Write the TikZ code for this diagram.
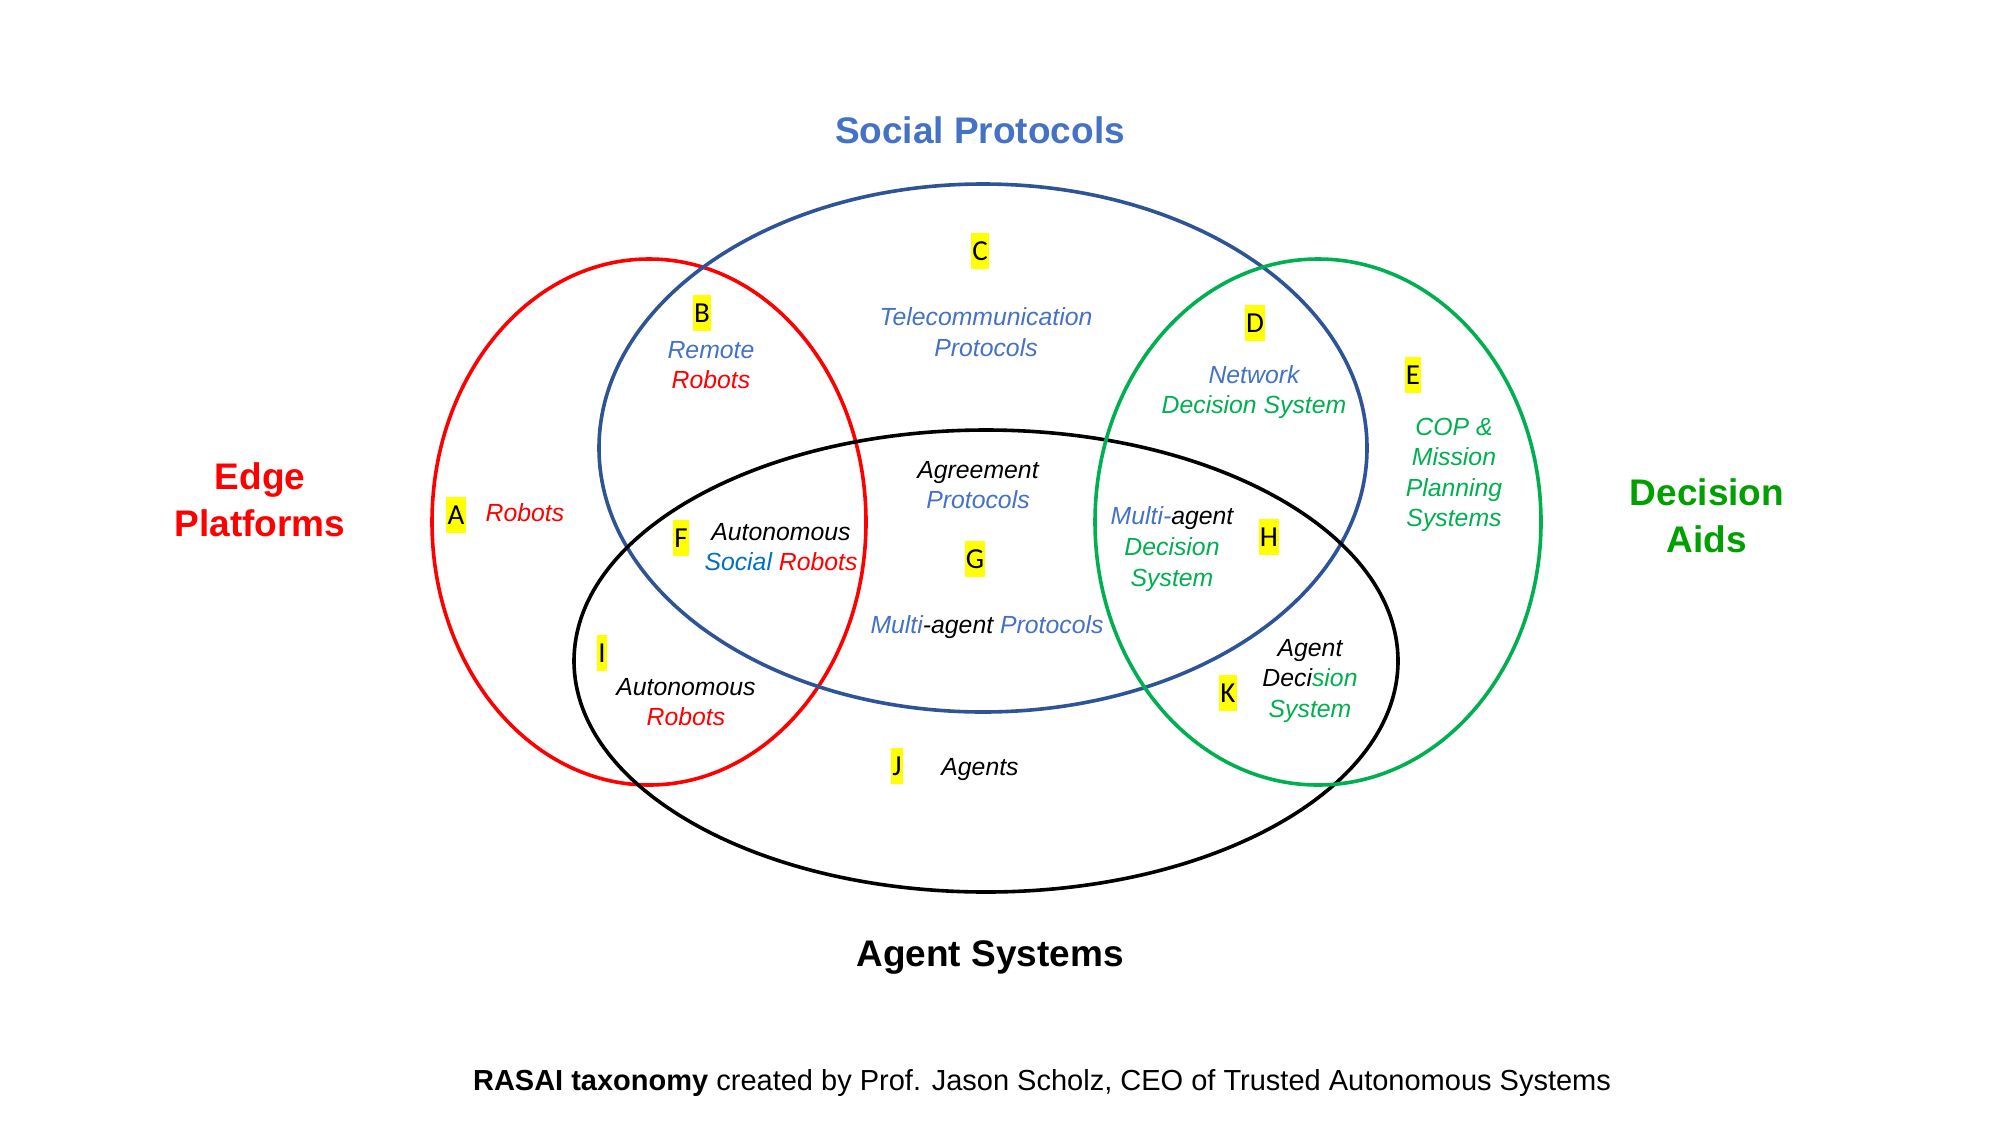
\documentclass[tikz,border=0pt]{standalone}
\usepackage{fontspec}
\setmainfont{Liberation Sans}
\newfontfamily\letterfont{Carlito}
\definecolor{cred}{RGB}{255,0,0}
\definecolor{cblueline}{RGB}{47,84,150}
\definecolor{cblue}{RGB}{68,114,196}
\definecolor{csocial}{RGB}{0,112,192}
\definecolor{cgreen}{RGB}{0,176,80}
\definecolor{cdgreen}{RGB}{0,160,0}
\definecolor{cyel}{RGB}{255,255,0}
\tikzset{
  ring/.style={line width=1.8pt},
  lbl/.style={font=\fontsize{12.4}{15.3}\selectfont\itshape, align=center, inner sep=0pt},
  title/.style={font=\fontsize{18.5}{23.6}\selectfont\bfseries, align=center, inner sep=0pt},
  tag/.style={fill=cyel, font=\fontsize{14.5}{17}\selectfont\letterfont, inner xsep=0.6pt, inner ysep=0pt, minimum height=18pt, text=black}
}
\begin{document}
\begin{tikzpicture}[x=0.5pt, y=-0.5pt]
\useasboundingbox (0,0) rectangle (2000,1125);
\fill[white] (0,0) rectangle (2000,1125);
% ellipses
\draw[ring, cred] (649,522) ellipse [x radius=217, y radius=263];
\draw[ring, cblueline] (983,448) ellipse [x radius=384, y radius=264];
\draw[ring, black] (986,661) ellipse [x radius=412, y radius=231];
\draw[ring, cgreen] (1318,522) ellipse [x radius=223, y radius=263];
% titles
\node[title, text=cblue] (tsp) at (980,130) {Social Protocols};
\node[title, text=cred] (tep) at (260,500) {Edge\\Platforms};
\node[title, text=cdgreen] (tda) at (1707,516) {Decision\\Aids};
\node[title, text=black] (tas) at (990,957) {Agent Systems};
\node[font=\fontsize{14.5}{17}\selectfont, inner sep=0pt] (foot) at (1042,1083) {\textbf{RASAI taxonomy} created by Prof. Jason Scholz, CEO of Trusted Autonomous Systems};
% tags
\node[tag] (A) at (456,515) {A};
\node[tag] (B) at (702,313) {B};
\node[tag] (C) at (980,251) {C};
\node[tag] (D) at (1255,323) {D};
\node[tag] (E) at (1413,375) {E};
\node[tag] (F) at (681,538) {F};
\node[tag] (G) at (975,559) {G};
\node[tag] (H) at (1269,537) {H};
\node[tag] (I) at (602,653) {I};
\node[tag] (J) at (897,766) {J};
\node[tag] (K) at (1228,693) {K};
% labels
\node[lbl, text=cred] (la) at (525,513) {Robots};
\node[lbl] (lb) at (711,365) {\textcolor{cblue}{Remote}\\\textcolor{cred}{Robots}};
\node[lbl, text=cblue] (lc) at (986,332) {Telecommunication\\Protocols};
\node[lbl] (ld) at (1254,392) {\textcolor{cblue}{Network}\\\textcolor{cgreen}{Decision System}};
\node[lbl, text=cgreen] (le) at (1454,475) {COP \&\\Mission\\Planning\\Systems};
\node[lbl] (lg1) at (978,485) {Agreement\\\textcolor{cblue}{Protocols}};
\node[lbl] (lf) at (781,547) {Autonomous\\\textcolor{csocial}{Social} \textcolor{cred}{Robots}};
\node[lbl] (lg2) at (987,627) {\textcolor{cblue}{Multi}-agent \textcolor{cblue}{Protocols}};
\node[lbl] (lh) at (1172,549) {\textcolor{cblue}{Multi-}agent\\\textcolor{cgreen}{Decision}\\\textcolor{cgreen}{System}};
\node[lbl] (li) at (686,702) {Autonomous\\\textcolor{cred}{Robots}};
\node[lbl] (lj) at (980,770) {Agents};
\node[lbl] (lk) at (1310,681) {Agent\\Deci\textcolor{cgreen}{sion}\\\textcolor{cgreen}{System}};
\end{tikzpicture}
\end{document}
